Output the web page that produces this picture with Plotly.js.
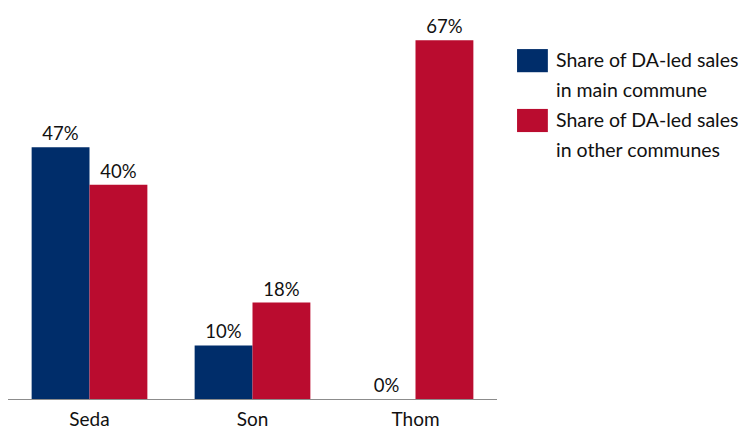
<!DOCTYPE html>
<html><head><meta charset="utf-8">
<script src="https://cdn.plot.ly/plotly-3.0.1.min.js"></script>
<style>html,body{margin:0;padding:0;background:#fff}#c{width:749px;height:429px}</style>
</head><body><div id="c"></div>
<script>
const categories = ["Seda", "Son", "Thom"];
const mainCommune = [47, 10, 0];
const otherCommunes = [40, 18, 67];
const seriesNames = [["Share of DA-led sales", "in main commune"], ["Share of DA-led sales", "in other communes"]];
const colors = ["#002D6A", "#BA0C2F"];
const font = "Lato, 'DejaVu Sans', sans-serif";

const traces = [mainCommune, otherCommunes].map((vals, i) => ({
  type: "bar", x: categories, y: vals, name: seriesNames[i].join(" "),
  marker: {color: colors[i]},
  text: vals.map(v => v + "%"), textposition: "outside", cliponaxis: false,
  textfont: {family: font, size: 18.5, color: "#111"}, showlegend: false
}));

const shapes = [], annotations = [];
seriesNames.forEach((lines, i) => {
  const y0 = 0.877 - i * 0.15;
  shapes.push({type: "rect", xref: "paper", yref: "paper", x0: 1.041, x1: 1.104, y0: y0 - 0.058, y1: y0, fillcolor: colors[i], line: {width: 0}});
  lines.forEach((t, j) => {
    annotations.push({xref: "paper", yref: "paper", x: 1.117, y: y0 - 0.027 - j * 0.075, xanchor: "left", yanchor: "middle", align: "left", showarrow: false, text: t, font: {family: font, size: 19.5, color: "#111"}});
  });
});

Plotly.newPlot("c", traces, {
  width: 749, height: 429, margin: {l: 8, r: 252, t: 0, b: 30},
  paper_bgcolor: "#fff", plot_bgcolor: "#fff",
  barmode: "group", bargap: 0.29, bargroupgap: 0,
  xaxis: {showline: true, linecolor: "#8c8c8c", linewidth: 1, ticks: "", ticklabelstandoff: 3, automargin: false, tickfont: {family: font, size: 19, color: "#111"}, showgrid: false},
  yaxis: {range: [0, 74.5], visible: false, showgrid: false, zeroline: false},
  shapes, annotations
}, {displayModeBar: false, staticPlot: true});
</script></body></html>
